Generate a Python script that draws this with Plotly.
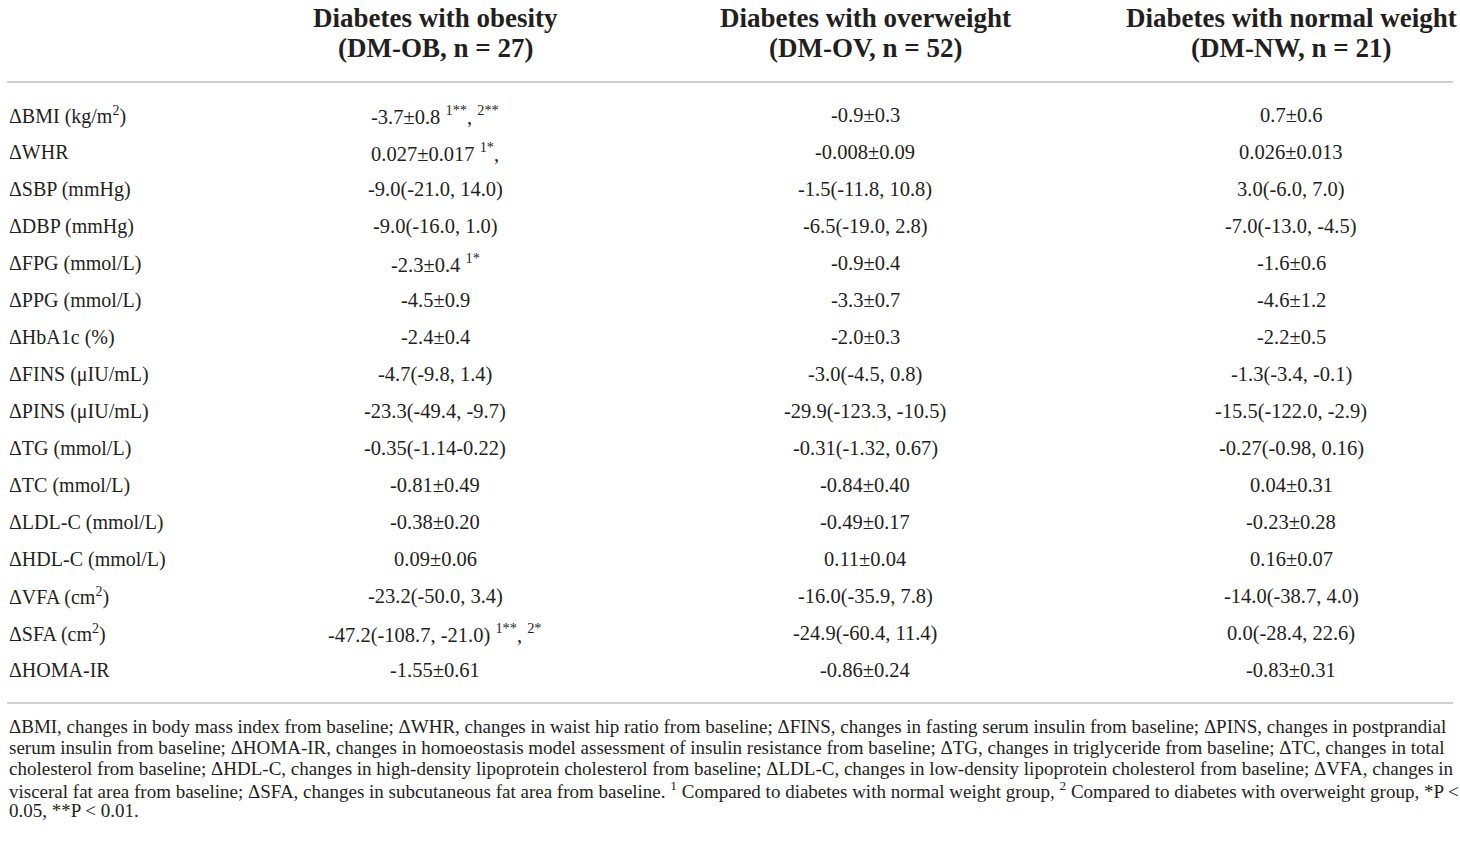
import plotly.graph_objects as go

# Table 2 — changes from baseline by weight group
row_labels = [
    "ΔBMI (kg/m<sup>2</sup>)", "ΔWHR", "ΔSBP (mmHg)", "ΔDBP (mmHg)",
    "ΔFPG (mmol/L)", "ΔPPG (mmol/L)", "ΔHbA1c (%)", "ΔFINS (μIU/mL)",
    "ΔPINS (μIU/mL)", "ΔTG (mmol/L)", "ΔTC (mmol/L)", "ΔLDL-C (mmol/L)",
    "ΔHDL-C (mmol/L)", "ΔVFA (cm<sup>2</sup>)", "ΔSFA (cm<sup>2</sup>)",
    "ΔHOMA-IR",
]

dm_ob = [
    "-3.7±0.8 <sup>1**</sup>, <sup>2**</sup>", "0.027±0.017 <sup>1*</sup>,",
    "-9.0(-21.0, 14.0)", "-9.0(-16.0, 1.0)", "-2.3±0.4 <sup>1*</sup>",
    "-4.5±0.9", "-2.4±0.4", "-4.7(-9.8, 1.4)", "-23.3(-49.4, -9.7)",
    "-0.35(-1.14-0.22)", "-0.81±0.49", "-0.38±0.20", "0.09±0.06",
    "-23.2(-50.0, 3.4)", "-47.2(-108.7, -21.0) <sup>1**</sup>, <sup>2*</sup>",
    "-1.55±0.61",
]
dm_ov = [
    "-0.9±0.3", "-0.008±0.09", "-1.5(-11.8, 10.8)", "-6.5(-19.0, 2.8)",
    "-0.9±0.4", "-3.3±0.7", "-2.0±0.3", "-3.0(-4.5, 0.8)",
    "-29.9(-123.3, -10.5)", "-0.31(-1.32, 0.67)", "-0.84±0.40",
    "-0.49±0.17", "0.11±0.04", "-16.0(-35.9, 7.8)", "-24.9(-60.4, 11.4)",
    "-0.86±0.24",
]
dm_nw = [
    "0.7±0.6", "0.026±0.013", "3.0(-6.0, 7.0)", "-7.0(-13.0, -4.5)",
    "-1.6±0.6", "-4.6±1.2", "-2.2±0.5", "-1.3(-3.4, -0.1)",
    "-15.5(-122.0, -2.9)", "-0.27(-0.98, 0.16)", "0.04±0.31",
    "-0.23±0.28", "0.16±0.07", "-14.0(-38.7, 4.0)", "0.0(-28.4, 22.6)",
    "-0.83±0.31",
]

group_names = [
    "Diabetes with obesity", "Diabetes with overweight",
    "Diabetes with normal weight",
]
group_tags = ["(DM-OB, n = 27)", "(DM-OV, n = 52)", "(DM-NW, n = 21)"]

footnote_lines = [
    "ΔBMI, changes in body mass index from baseline; ΔWHR, changes in waist hip ratio from baseline; "
    "ΔFINS, changes in fasting serum insulin from baseline; ΔPINS, changes in postprandial",
    "serum insulin from baseline; ΔHOMA-IR, changes in homoeostasis model assessment of insulin "
    "resistance from baseline; ΔTG, changes in triglyceride from baseline; ΔTC, changes in total",
    "cholesterol from baseline; ΔHDL-C, changes in high-density lipoprotein cholesterol from baseline; "
    "ΔLDL-C, changes in low-density lipoprotein cholesterol from baseline; ΔVFA, changes in",
    "visceral fat area from baseline; ΔSFA, changes in subcutaneous fat area from baseline. "
    "<sup>1</sup> Compared to diabetes with normal weight group, <sup>2</sup> Compared to diabetes "
    "with overweight group, *P <",
    "0.05, **P < 0.01.",
]

W, H = 1460, 843
FONT = "Liberation Serif, Times New Roman, serif"
INK = "#231f20"
RULE = "#d0d0d0"

# y axis is in "row" units: row 0 sits at pixel 115, rows are 37 px apart
ROW0_PX, ROW_PX = 115, 37.0
y_top = -ROW0_PX / ROW_PX
y_bot = y_top + H / ROW_PX


def px_to_row(py):
    return (py - ROW0_PX) / ROW_PX


col_x = [435, 865, 1291]
left_x = 7
right_x = 1453

fig = go.Figure()
ann = []

for gx, name, tag in zip(col_x, group_names, group_tags):
    for text, py in ((name, 18), (tag, 48)):
        ann.append(dict(x=gx, y=px_to_row(py), text=f"<b>{text}</b>",
                        xanchor="center", yanchor="middle",
                        font=dict(size=27, family=FONT, color=INK)))

for i, lab in enumerate(row_labels):
    ann.append(dict(x=left_x, y=i, text=lab, xanchor="left", yanchor="middle",
                    font=dict(size=20, family=FONT, color=INK)))

for gx, col in zip(col_x, [dm_ob, dm_ov, dm_nw]):
    for i, val in enumerate(col):
        ann.append(dict(x=gx, y=i, text=val, xanchor="center",
                        yanchor="middle",
                        font=dict(size=20.5, family=FONT, color=INK)))

for k, line in enumerate(footnote_lines):
    ann.append(dict(x=left_x, y=px_to_row(726 + 21.2 * k), text=line,
                    xanchor="left", yanchor="middle",
                    font=dict(size=19, family=FONT, color=INK)))

for i in range(len(ann)):
    ann[i].update(xref="x", yref="y", showarrow=False)

shapes = [
    dict(type="line", xref="x", yref="y", x0=left_x, x1=right_x,
         y0=px_to_row(py), y1=px_to_row(py),
         line=dict(color=RULE, width=2))
    for py in (82, 703)
]

fig.update_layout(
    width=W, height=H,
    margin=dict(l=0, r=0, t=0, b=0),
    paper_bgcolor="white", plot_bgcolor="white",
    xaxis=dict(range=[0, W], visible=False, fixedrange=True),
    yaxis=dict(range=[y_bot, y_top], visible=False, fixedrange=True),
    annotations=ann,
    shapes=shapes,
    showlegend=False,
)

# the page body has a default 8px margin; drop it so the table sits at 0,0
fig.write_html(
    "out.html",
    config={"displayModeBar": False},
    post_script="document.body.style.margin='0';"
                "document.body.style.overflow='hidden';",
)
